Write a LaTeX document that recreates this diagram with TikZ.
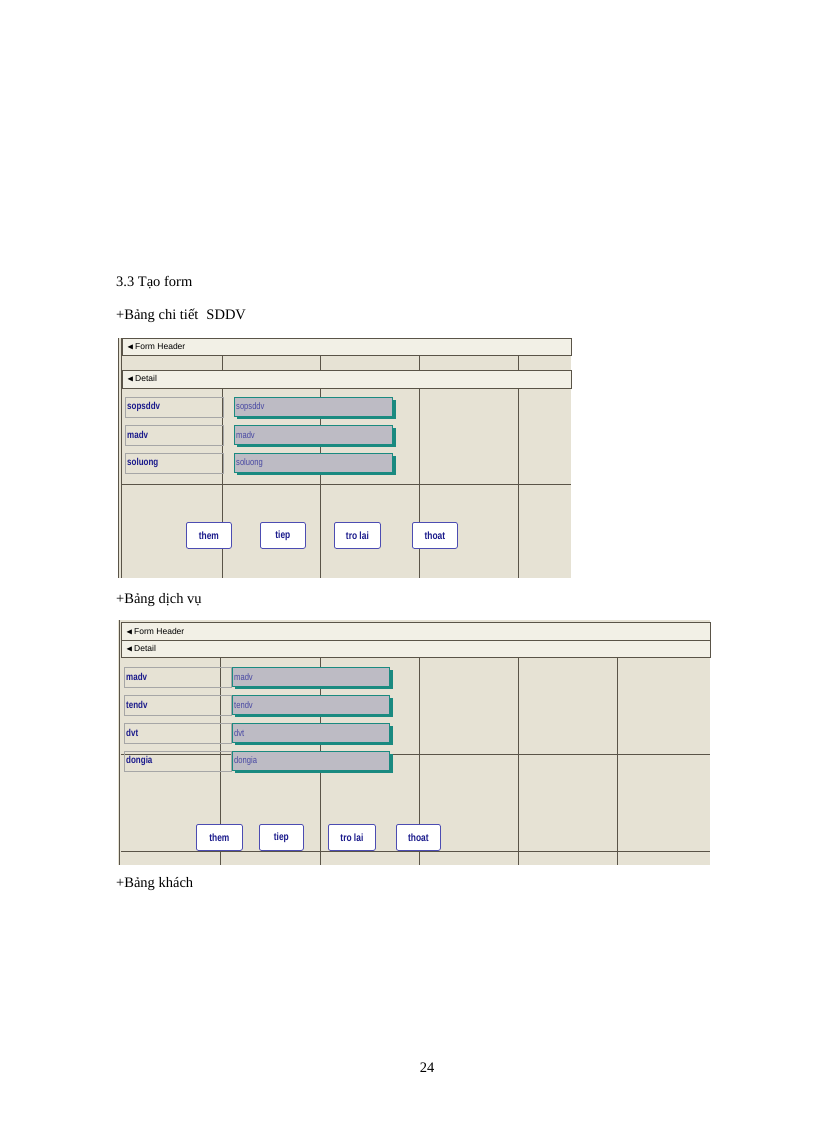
\documentclass[tikz,border=0pt]{standalone}
\usepackage{amssymb}
\usepackage{fontspec}
\setmainfont{Liberation Serif}
\newfontfamily\uifont{Liberation Sans}
\newfontfamily\narrowfont[FakeStretch=0.8]{Liberation Sans}
\definecolor{gridbg}{HTML}{E6E2D4}
\definecolor{barbg}{HTML}{F2F0E6}
\definecolor{navy}{HTML}{1A1A8C}
\definecolor{fieldbg}{HTML}{BDBBC4}
\definecolor{teal}{HTML}{1A8A80}
\definecolor{gline}{HTML}{5A5448}
\tikzset{
 body/.style={font=\fontsize{14.5}{16}\selectfont, anchor=west, inner sep=0},
 bar/.style={fill=barbg, draw=gline, line width=0.5pt},
 bartext/.style={font=\uifont\fontsize{8.5}{9}\selectfont, anchor=west, inner sep=0},
 lab/.style={draw=gray!70, anchor=north west, minimum height=20pt, text width=94pt, inner sep=2pt, font=\narrowfont\bfseries\fontsize{10}{11}\selectfont, text=navy, align=left},
 fld/.style={fill=fieldbg, draw=teal, anchor=north west, minimum height=19pt, text width=154pt, inner sep=2pt, font=\narrowfont\fontsize{9.5}{10}\selectfont, text=navy!80, align=left},
 btn/.style={draw=blue!40!gray, fill=white, rounded corners=2pt, line width=0.8pt, minimum height=26pt, inner sep=0, font=\narrowfont\bfseries\fontsize{10.5}{11}\selectfont, text=navy, anchor=north west},
 gl/.style={draw=gline, line width=0.8pt}
}
\begin{document}
\begin{tikzpicture}[x=1pt,y=-1pt]
\useasboundingbox (0,0) rectangle (816,1123);
\fill[white] (0,0) rectangle (816,1123);
\node[body] (t1) at (116,283) {3.3 Tạo form};
\node[body] (t2) at (116,316) {+Bảng chi tiết\hspace{8pt}SDDV};
\node[body] (t3) at (116,600) {+Bảng dịch vụ};
\node[body] (t4) at (116,884) {+Bảng khách};
\node[body,anchor=center] (pg) at (427,1068) {24};

% ---------- Form 1 ----------
\fill[gridbg] (118,338) rectangle (571,578);
\foreach \x in {222,320,419,518} \draw[gl] (\x,355) -- (\x,370) (\x,388) -- (\x,578);
\draw[gl] (122,388) -- (571,388) (122,484) -- (571,484) (122,355) -- (571,355) (122,370)--(571,370);
\draw[bar] (122,338) rectangle (571,355);
\node[bartext] (fh1) at (127,346.5) {$\blacktriangleleft$\,Form Header};
\draw[bar] (122,370) rectangle (571,388);
\node[bartext] (d1) at (127,379) {$\blacktriangleleft$\,Detail};
\draw[gline,line width=1pt] (118,338) -- (118,578) (121,338) -- (121,578);
\foreach \n/\y in {sopsddv/397,madv/425,soluong/453}{
  \node[lab] (l\n) at (125,\y) {\n};
  \fill[teal] (237,\y+3) rectangle (396,\y+22);
  \node[fld] (f\n) at (234,\y) {\n};
}
\foreach \n/\x/\w in {them/186/45,tiep/260/45,tro lai/334/46,thoat/412/45}
  \node[btn,minimum width=\w pt] (b1\x) at (\x,522) {\n};

% ---------- Form 2 ----------
\fill[gridbg] (118,620) rectangle (710,865);
\foreach \x in {220,320,419,518,617} \draw[gl] (\x,657) -- (\x,865);
\draw[gl] (121,657) -- (710,657) (121,754) -- (710,754) (121,851) -- (710,851);
\draw[bar] (121,622) rectangle (710,640);
\node[bartext] (fh2) at (126,631.5) {$\blacktriangleleft$\,Form Header};
\draw[bar] (121,640) rectangle (710,657);
\node[bartext] (d2) at (126,648.5) {$\blacktriangleleft$\,Detail};
\draw[gline,line width=1pt] (119,620) -- (119,865);
\foreach \n/\y in {madv/667,tendv/695,dvt/723,dongia/751}{
  \node[lab,text width=103pt] (m\n) at (124,\y) {\n};
  \fill[teal] (235,\y+3) rectangle (393,\y+22);
  \node[fld,text width=153pt] (g\n) at (232,\y) {\n};
}
\foreach \n/\x/\w in {them/196/46,tiep/259/44,tro lai/328/47,thoat/396/44}
  \node[btn,minimum width=\w pt] (b2\x) at (\x,824) {\n};
\end{tikzpicture}
\end{document}
